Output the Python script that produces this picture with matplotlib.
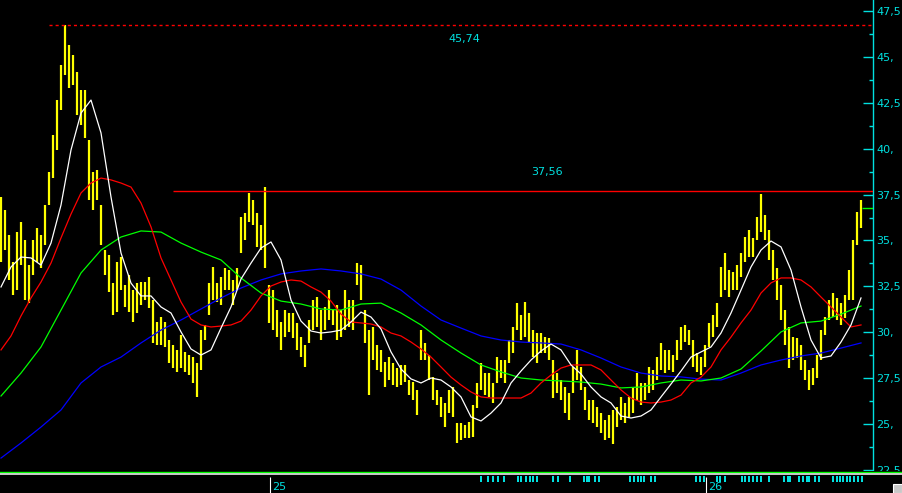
import matplotlib
matplotlib.use("Agg")
import matplotlib.pyplot as plt
import numpy as np
from matplotlib.patches import Rectangle

# ---------------- data ----------------
highs = [37.37, 36.66, 35.30, 33.83, 35.46, 36.01, 35.03, 33.66, 35.03, 35.68,
         35.30, 36.94, 38.73, 40.75, 42.65, 44.56, 46.74, 45.65, 45.10, 44.18,
         43.20, 43.20, 40.47, 38.73, 38.84, 36.94, 34.48, 34.21, 32.68, 33.83,
         34.10, 32.58, 33.12, 32.30, 32.68, 32.74, 32.74, 33.01, 31.76, 30.56,
         30.83, 30.56, 29.58, 29.31, 29.04, 29.85, 28.93, 28.76, 28.65, 28.33,
         30.12, 30.40, 32.68, 33.56, 32.68, 33.01, 33.50, 33.39, 32.85, 33.50,
         36.28, 36.50, 37.59, 37.21, 36.50, 35.84, 37.91, 32.58, 32.30, 31.21,
         30.56, 31.21, 31.05, 31.05, 30.51, 29.74, 29.31, 30.67, 31.76, 31.92,
         31.21, 31.38, 32.30, 31.21, 31.49, 31.21, 32.30, 31.76, 31.76, 33.77,
         33.66, 31.21, 30.12, 30.29, 29.31, 29.04, 28.38, 28.65, 28.33, 28.05,
         28.22, 28.22, 27.40, 27.29, 26.86, 30.12, 29.42, 28.76, 27.57, 26.86,
         26.48, 26.15, 26.86, 27.02, 25.06, 25.06, 24.95, 25.11, 26.04, 27.24,
         28.33, 27.78, 27.78, 27.24, 28.65, 28.49, 28.49, 29.58, 30.29, 31.59,
         30.94, 31.65, 31.05, 30.12, 29.96, 29.96, 29.74, 29.69, 28.49, 27.78,
         27.40, 27.02, 26.69, 28.11, 29.04, 28.11, 27.02, 26.31, 26.31, 25.93,
         25.60, 25.22, 25.50, 25.77, 25.93, 26.48, 26.15, 26.48, 27.02, 27.78,
         27.24, 27.24, 28.11, 27.95, 28.65, 29.42, 29.04, 29.04, 28.76, 29.58,
         30.29, 30.40, 30.12, 29.58, 28.87, 28.65, 29.31, 30.51, 30.94, 31.59,
         33.56, 34.32, 33.39, 33.28, 33.66, 34.32, 35.19, 35.57, 35.14, 36.28,
         37.53, 36.39, 35.57, 34.48, 33.50, 32.58, 31.21, 30.29, 29.74, 29.69,
         29.31, 28.49, 27.95, 28.05, 28.76, 30.12, 30.83, 31.76, 32.14, 31.87,
         31.59, 32.03, 33.39, 35.03, 36.55, 37.21]

lows = [33.83, 34.48, 32.85, 32.03, 32.30, 33.66, 31.76, 31.59, 33.12, 33.83,
        33.50, 34.76, 36.94, 38.40, 39.93, 42.11, 44.01, 43.31, 43.47, 41.84,
        41.29, 40.58, 37.21, 36.66, 37.21, 34.76, 33.12, 32.19, 30.94, 31.10,
        32.30, 31.38, 31.10, 30.56, 31.05, 31.49, 31.76, 31.32, 29.42, 29.31,
        29.31, 29.20, 28.33, 28.05, 27.84, 28.05, 27.84, 27.67, 27.24, 26.48,
        27.95, 29.58, 30.94, 31.76, 31.65, 31.49, 32.30, 32.30, 31.49, 32.30,
        34.32, 35.03, 36.01, 35.84, 34.65, 34.48, 33.50, 30.51, 30.12, 29.74,
        29.04, 29.74, 30.02, 29.69, 29.04, 28.65, 28.11, 29.42, 30.12, 30.29,
        29.58, 30.12, 30.67, 30.40, 29.58, 29.74, 30.12, 30.29, 30.12, 32.58,
        31.76, 29.42, 26.58, 28.49, 27.95, 27.84, 27.02, 27.40, 27.13, 27.02,
        27.13, 27.29, 26.58, 26.31, 25.50, 28.49, 28.49, 27.40, 26.31, 26.04,
        25.39, 24.84, 25.60, 25.39, 23.97, 24.13, 24.24, 24.24, 24.30, 25.88,
        26.86, 26.58, 26.48, 26.15, 27.24, 27.51, 27.24, 28.33, 28.87, 30.12,
        29.58, 29.74, 29.42, 28.65, 28.33, 28.87, 28.87, 28.49, 26.42, 26.69,
        26.31, 25.60, 25.22, 26.69, 27.40, 26.86, 25.77, 25.22, 25.06, 24.84,
        24.51, 24.13, 24.24, 23.92, 24.84, 25.22, 25.06, 25.39, 25.60, 26.31,
        26.04, 26.31, 26.69, 26.86, 27.40, 27.95, 27.78, 27.95, 27.84, 28.49,
        29.04, 29.47, 29.31, 28.11, 27.84, 27.67, 28.11, 29.20, 29.74, 30.29,
        31.92, 32.30, 31.92, 32.30, 32.30, 33.01, 33.83, 34.10, 34.10, 35.03,
        35.46, 35.03, 33.94, 32.85, 31.76, 30.67, 29.31, 28.05, 28.49, 28.60,
        27.95, 27.40, 26.86, 27.13, 27.51, 28.49, 29.85, 30.67, 30.83, 30.67,
        30.40, 30.78, 31.76, 31.76, 34.76, 35.68]

# fast moving averages sampled every 2.5 bars
fast_step = 2.5
ma_white = [32.47, 33.56, 34.10, 34.05, 33.66, 34.86, 36.93, 39.93, 41.94, 42.65,
            40.86, 37.37, 34.32, 32.68, 31.98, 31.98, 31.38, 31.05, 30.02, 29.09,
            28.76, 29.04, 30.23, 31.38, 32.90, 33.77, 34.59, 34.92, 33.94, 31.76,
            30.61, 30.07, 29.96, 30.02, 30.12, 30.56, 31.10, 30.83, 30.18, 28.93,
            28.00, 27.46, 27.24, 27.51, 27.40, 27.02, 26.48, 25.39, 25.17, 25.60,
            26.15, 27.24, 27.89, 28.49, 28.98, 29.36, 29.04, 28.22, 27.73, 27.02,
            26.48, 26.15, 25.44, 25.33, 25.44, 25.77, 26.48, 27.18, 27.89, 28.65,
            28.93, 29.20, 29.96, 31.05, 32.30, 33.56, 34.48, 34.97, 34.65, 33.39,
            31.38, 29.58, 28.60, 28.71, 29.47, 30.40, 31.87]
ma_red = [29.04, 29.80, 30.89, 31.87, 32.74, 33.77, 35.14, 36.44, 37.59, 38.13,
          38.40, 38.30, 38.13, 37.91, 37.04, 35.74, 34.05, 32.85, 31.65, 30.72,
          30.40, 30.29, 30.34, 30.40, 30.61, 31.21, 31.98, 32.52, 32.74, 32.85,
          32.79, 32.47, 32.19, 31.70, 30.99, 30.56, 30.51, 30.45, 30.29, 29.96,
          29.80, 29.47, 29.09, 28.65, 28.11, 27.56, 27.13, 26.75, 26.48, 26.42,
          26.42, 26.42, 26.42, 26.69, 27.24, 27.67, 28.05, 28.22, 28.22, 28.22,
          27.95, 27.40, 26.86, 26.42, 26.20, 26.15, 26.20, 26.31, 26.58, 27.24,
          27.56, 28.11, 29.04, 29.74, 30.51, 31.21, 32.14, 32.69, 32.96, 32.96,
          32.85, 32.47, 31.92, 31.38, 30.83, 30.29, 30.40]

# slow moving averages sampled every 5 bars
slow_step = 5
ma_green = [26.53, 27.78, 29.20, 31.21, 33.23, 34.48, 35.19, 35.52, 35.46, 34.86,
            34.37, 33.94, 32.96, 32.14, 31.70, 31.54, 31.27, 31.21, 31.54, 31.59,
            31.05, 30.40, 29.58, 28.87, 28.22, 27.84, 27.51, 27.40, 27.35, 27.29,
            27.18, 26.97, 27.02, 27.24, 27.40, 27.35, 27.51, 28.00, 28.98, 30.02,
            30.51, 30.61, 30.99, 31.43]
ma_blue = [23.15, 23.97, 24.84, 25.77, 27.24, 28.11, 28.65, 29.42, 30.12, 30.67,
           31.27, 31.87, 32.41, 32.85, 33.18, 33.34, 33.45, 33.34, 33.18, 32.90,
           32.30, 31.43, 30.67, 30.23, 29.80, 29.58, 29.47, 29.42, 29.36, 29.04,
           28.60, 28.11, 27.78, 27.62, 27.57, 27.45, 27.40, 27.78, 28.22, 28.49,
           28.71, 28.87, 29.14, 29.42]

peak_level = 46.74
peak_label = "45,74"
peak_start = 12.0
resist_level = 37.70
resist_label = "37,56"
resist_start = 43.0
last_marker = 36.77

ytick_vals = [22.5, 25.0, 27.5, 30.0, 32.5, 35.0, 37.5, 40.0, 42.5, 45.0, 47.5]
ytick_labels = ["22,5", "25,", "27,5", "30,", "32,5", "35,", "37,5", "40,", "42,5", "45,", "47,5"]

year_pos = [67.25, 176.25]
year_labels = ["25", "26"]

flags = [120.0, 121.75, 123.0, 124.25, 125.75, 129.25, 130.0, 131.25, 132.25, 133.0,
         134.0, 138.0, 139.25, 142.25, 145.75, 146.5, 147.0, 148.5, 149.5, 157.25,
         158.25, 159.25, 160.0, 160.75, 162.5, 163.5, 173.75, 174.75, 175.75, 179.0,
         179.75, 181.0, 185.25, 186.0, 187.0, 188.0, 189.0, 190.0, 192.0, 195.75,
         196.75, 197.25, 199.5, 200.5, 201.5, 202.0, 203.5, 204.5, 208.0, 209.0,
         209.75, 210.5, 211.5, 212.25, 213.25, 214.25, 215.25]

# ---------------- drawing ----------------
CYAN = "#00e0e0"
W, H = 902, 493

fig = plt.figure(figsize=(W / 100, H / 100), dpi=100, facecolor="black")
ax = fig.add_axes([0, 21 / H, 873 / W, 472 / H], facecolor="black")

idx = np.arange(len(highs))
ax.vlines(idx, lows, highs, colors="#ffff00", lw=1.6, zorder=2)

fast_idx = np.arange(len(ma_white)) * fast_step
slow_idx = np.arange(len(ma_green)) * slow_step
ax.plot(slow_idx, ma_blue, color="#0000ff", lw=0.9, zorder=3)
ax.plot(slow_idx, ma_green, color="#00ff00", lw=0.9, zorder=3)
ax.plot(fast_idx, ma_red, color="#ff0000", lw=0.9, zorder=3)
ax.plot(fast_idx, ma_white, color="#ffffff", lw=0.9, zorder=3)

ax.set_xlim(-0.25, 218)
ax.set_ylim(22.39, 48.10)

ax.hlines(peak_level, peak_start, 218, colors="#ff0000", lw=1.0,
          linestyles=(0, (2.2, 2.2)), zorder=4)
ax.hlines(resist_level, resist_start, 218, colors="#ff0000", lw=1.0, zorder=4)
ax.hlines(last_marker, 215.3, 218, colors="#00ff00", lw=1.0, zorder=4)

ax.text(115.75, peak_level - 0.77, peak_label, color=CYAN, fontsize=8,
        ha="center", va="center", family="DejaVu Sans")
ax.text(136.5, resist_level + 1.03, resist_label, color=CYAN, fontsize=8,
        ha="center", va="center", family="DejaVu Sans")

for s in ["left", "top", "bottom"]:
    ax.spines[s].set_visible(False)
ax.spines["right"].set_color(CYAN)
ax.spines["right"].set_linewidth(1.0)
ax.yaxis.tick_right()
ax.set_yticks(ytick_vals)
ax.set_yticklabels(ytick_labels)
ax.set_yticks([v + 1.25 for v in ytick_vals[:-1]], minor=True)
ax.tick_params(axis="y", which="major", direction="in", length=7, width=1,
               color=CYAN, labelcolor=CYAN, labelsize=8, pad=2.5)
ax.tick_params(axis="y", which="minor", direction="in", length=3, width=1,
               color=CYAN)
ax.set_xticks([])

# bottom strip
ax2 = fig.add_axes([0, 0, 1, 22 / H], facecolor="black")
ax2.set_xlim(-0.25, 225.25)
ax2.set_ylim(0, 22)
for s in ax2.spines.values():
    s.set_visible(False)
ax2.set_xticks([])
ax2.set_yticks([])
ax2.axhline(21, color="#00ff00", lw=1.0)
ax2.axhline(18.8, color="#ffffff", lw=1.1)
ax2.bar(flags, 6, bottom=11, width=0.6, color=CYAN, align="center")
ax2.vlines(year_pos, 0, 16, colors="#ffffff", lw=0.8)
for p, lab in zip(year_pos, year_labels):
    ax2.text(p + 0.6, 0.5, lab, color=CYAN, fontsize=8, ha="left", va="bottom",
             family="DejaVu Sans")
ax2.add_patch(Rectangle((223, 0), 2.25, 9.5, facecolor="#c8c8c8",
                        edgecolor="#ffffff", lw=0.8))

fig.savefig("out.png", dpi=100, facecolor="black")
